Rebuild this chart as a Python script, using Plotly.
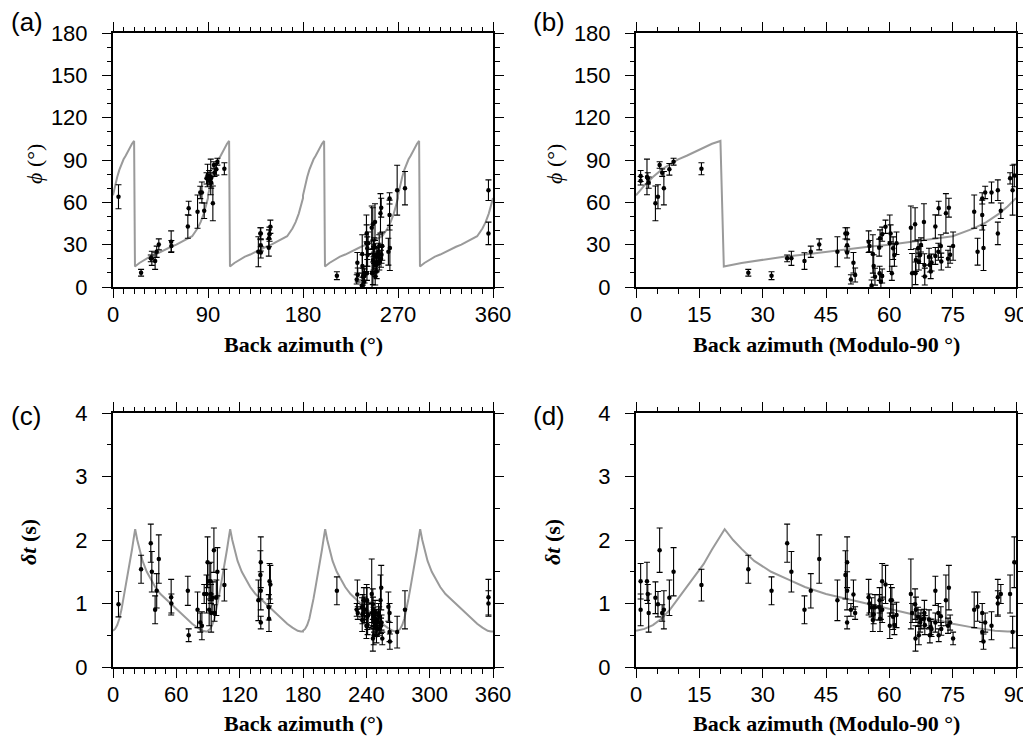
import numpy as np
import plotly.graph_objects as go

# events: back azimuth (deg), fast direction phi (deg) and delay time dt (s), with errors
baz = [91.1, 91.1, 92.6, 92.8, 93.0, 94.6, 5.2, 95.6, 96.2, 276.6,
       97.9, 98.9, 105.5, 26.6, 212.1, 35.8, 36.8, 39.9, 41.4, 43.4,
       137.7, 139.6, 140.0, 140.0, 140.0, 230.9, 231.5, 231.9, 55.1, 55.3,
       235.8, 236.1, 236.3, 236.6, 147.6, 147.8, 148.3, 237.7, 238.0, 238.3,
       149.1, 240.1, 240.3, 240.6, 240.9, 241.2, 241.7, 245.1, 245.4, 246.1,
       246.2, 246.3, 246.8, 247.0, 247.3, 247.5, 248.2, 248.3, 248.4, 249.4,
       249.6, 249.8, 250.0, 70.9, 250.9, 251.6, 71.7, 252.2, 252.3, 253.4,
       254.1, 253.9, 254.4, 255.1, 80.1, 260.9, 262.0, 262.0, 262.3, 82.7,
       84.2, 355.7, 355.7, 86.4, 88.6, 269.2, 89.6]
phi = [78.7, 75.3, 78, 77, 74, 59.3, 64, 86.5, 81, 70,
       83.4, 88.8, 83.8, 10.1, 8, 20.3, 20.3, 18.4, 25, 30.2,
       25, 38, 38, 29.5, 24.5, 5.4, 17.2, 8.5, 32.1, 29,
       1, 23.4, 14.9, 7.3, 27.9, 34.5, 37.4, 9.7, 3.8, 7.8,
       42.7, 31, 38, 9.7, 27.5, 22.7, 31, 42, 9.7, 44.4,
       9.7, 19.1, 27.4, 18, 22.7, 29.8, 46, 15.6, 7.4, 21.5,
       15.6, 10.9, 17.3, 42.8, 22, 25, 55.8, 29, 18, 52.2,
       56.2, 20, 22.8, 29, 53.4, 25, 62.8, 51, 27.7, 67,
       67, 68.6, 38, 54, 77, 68.6, 79]
phi_err = [3.9, 3, 12.6, 4, 4, 12.3, 8.5, 2.3, 2.6, 11.8,
           4.1, 2.4, 4.3, 2.4, 2.8, 2.4, 5, 5.9, 4, 3.9,
           10.6, 4, 4, 4, 4, 3.3, 7.3, 5, 7.7, 4,
           4, 13.6, 8, 6, 6, 6, 5, 5, 5, 5,
           4.7, 20, 6, 5, 8, 8, 8, 15.4, 14, 11.8,
           8, 8, 6, 6, 6, 5, 13, 8, 6, 6,
           5, 5, 6, 8.3, 6, 6, 5, 8, 6, 14,
           6.7, 6, 6, 10, 11.8, 9.5, 4, 10.6, 16, 4.4,
           7.4, 7.3, 8, 5.5, 4, 17.7, 8]
dt = [1.35, 0.9, 1.35, 1.15, 0.85, 1.09, 0.99, 1.84, 0.85, 0.9,
      1.09, 1.5, 1.29, 1.54, 1.2, 1.95, 1.5, 0.9, 1.2, 1.7,
      1.05, 1.45, 1.65, 1.2, 0.7, 0.9, 1.14, 0.85, 1.1, 1.0,
      0.94, 0.74, 0.83, 0.94, 0.94, 0.76, 1.35, 1.05, 0.9, 0.9,
      1.3, 0.65, 1.05, 1.05, 0.79, 0.66, 0.82, 1.15, 0.85, 0.99,
      0.45, 0.9, 0.79, 0.5, 0.7, 0.75, 0.76, 0.85, 0.66, 0.75,
      0.5, 0.63, 0.6, 1.2, 0.7, 0.85, 0.5, 0.8, 0.6, 1.05,
      1.25, 0.65, 0.7, 0.45, 0.9, 0.95, 0.85, 0.55, 0.4, 0.7,
      0.65, 1.1, 1.0, 1.15, 1.15, 0.55, 1.65]
dt_err = [0.28, 0.25, 0.3, 0.15, 0.3, 0.25, 0.2, 0.35, 0.13, 0.3,
          0.28, 0.38, 0.25, 0.22, 0.22, 0.3, 0.32, 0.22, 0.27, 0.38,
          0.32, 0.38, 0.4, 0.3, 0.1, 0.1, 0.23, 0.1, 0.28, 0.15,
          0.15, 0.18, 0.15, 0.2, 0.2, 0.2, 0.28, 0.2, 0.15, 0.2,
          0.3, 0.2, 0.25, 0.2, 0.2, 0.15, 0.2, 0.55, 0.15, 0.24,
          0.2, 0.2, 0.15, 0.15, 0.15, 0.15, 0.15, 0.2, 0.15, 0.15,
          0.12, 0.12, 0.12, 0.23, 0.15, 0.15, 0.1, 0.15, 0.1, 0.4,
          0.35, 0.12, 0.12, 0.1, 0.28, 0.23, 0.15, 0.15, 0.12, 0.15,
          0.22, 0.28, 0.2, 0.15, 0.3, 0.25, 0.4]

# model curves over one 90-deg period
model_x = [0, 2, 4, 6, 8, 10, 12, 14, 16, 18, 20, 20.8, 25, 30, 35, 40, 45, 50,
           55, 60, 65, 70, 75, 80, 83, 86, 88, 90]
model_phi = [65, 72, 78, 83, 87, 90.5, 93, 96, 99, 101.5, 103.5, 14.5, 17, 19.5,
             21.5, 23, 25, 27, 28.5, 30, 32, 33.5, 36, 41.5, 46, 52, 57, 63]
model_dt_x = [0, 2, 4, 6, 8, 10, 12, 14, 16, 18, 20, 21, 23, 25, 28, 32, 36, 40,
              45, 50, 55, 60, 65, 70, 75, 80, 85, 88, 90]
model_dt = [0.57, 0.6, 0.66, 0.76, 0.9, 1.08, 1.27, 1.45, 1.62, 1.85, 2.07, 2.17,
            2.0, 1.86, 1.67, 1.5, 1.38, 1.26, 1.15, 1.07, 1.0, 0.92, 0.84, 0.76,
            0.68, 0.62, 0.57, 0.56, 0.56]

baz = np.array(baz)
baz90 = baz % 90
full_x = np.concatenate([np.array(model_x) + k * 90 for k in range(4)])
full_phi = np.tile(model_phi, 4)
full_dt_x = np.concatenate([np.array(model_dt_x) + k * 90 for k in range(4)])
full_dt = np.tile(model_dt, 4)

# page body adds an 8px margin, so the figure is 8px smaller and offsets are shifted
OFF = 8
W, H = 1031 - OFF, 739 - OFF
fig = go.Figure()

panels = [
    # x, y, err, curve x, curve y, axis suffix
    (baz, phi, phi_err, full_x, full_phi, ''),
    (baz90, phi, phi_err, model_x, model_phi, '2'),
    (baz, dt, dt_err, full_dt_x, full_dt, '3'),
    (baz90, dt, dt_err, model_dt_x, model_dt, '4'),
]
for x, y, err, cx, cy, s in panels:
    fig.add_trace(go.Scatter(x=cx, y=cy, mode='lines', line=dict(color='#9a9a9a', width=2),
                             xaxis='x' + s, yaxis='y' + s, showlegend=False, hoverinfo='skip'))
    fig.add_trace(go.Scatter(x=x, y=y, mode='markers', marker=dict(color='black', size=4.5),
                             error_y=dict(type='data', array=err, color='black', thickness=1.1, width=3),
                             xaxis='x' + s, yaxis='y' + s, showlegend=False))

tickfont = dict(family='Liberation Sans', size=22, color='black')


def ax(dom, rng, dtick, minor, anchor, standoff):
    return dict(domain=dom, range=rng, dtick=dtick, tick0=0, ticks='outside', ticklen=9,
                tickwidth=1.2, tickcolor='black', showline=True, linewidth=2, linecolor='black',
                mirror='ticks', showgrid=False, zeroline=False, tickfont=tickfont,
                anchor=anchor, fixedrange=True, automargin=False, ticklabelstandoff=standoff,
                minor=dict(dtick=minor, tick0=0, ticks='outside', ticklen=4.5, tickwidth=1,
                           tickcolor='black', showgrid=False))


def px_x(a, b):
    return [(a - OFF) / W, (b - OFF) / W]


def px_y(top, bottom):
    return [1 - (bottom - OFF) / H, 1 - (top - OFF) / H]


xl = px_x(113, 493)
xr = px_x(636, 1016)
yt = px_y(33, 287)
yb = px_y(413, 667)

fig.update_layout(
    width=W, height=H, margin=dict(l=0, r=0, t=0, b=0, pad=0, autoexpand=False),
    plot_bgcolor='white', paper_bgcolor='white',
    xaxis=ax(xl, [0, 360], 90, 10, 'y', -2),
    yaxis=ax(yt, [0, 180], 30, 10, 'x', 10),
    xaxis2=ax(xr, [0, 90], 15, 5, 'y2', -2),
    yaxis2=ax(yt, [0, 180], 30, 10, 'x2', 10),
    xaxis3=ax(xl, [0, 360], 60, 10, 'y3', -2),
    yaxis3=ax(yb, [0, 4], 1, 0.5, 'x3', 10),
    xaxis4=ax(xr, [0, 90], 15, 5, 'y4', -2),
    yaxis4=ax(yb, [0, 4], 1, 0.5, 'x4', 10),
)

serif = dict(family='Liberation Serif', size=22, color='black')
labfont = dict(family='Liberation Sans', size=26, color='black')

# panel letters sit against the top edge of the page
for text, px in [('(a)', 27), ('(b)', 549)]:
    fig.add_annotation(text=text, x=(px - OFF) / W, y=1, xref='paper', yref='paper',
                       showarrow=False, font=labfont, xanchor='center', yanchor='top',
                       borderpad=0, yshift=2)

notes = [
    ('(c)', 26, 416, labfont, 0), ('(d)', 549, 416, labfont, 0),
    ('<i>ϕ</i> (°)', 34, 164, serif, -90), ('<i>ϕ</i> (°)', 554, 164, serif, -90),
    ('<b><i>δt</i> (s)</b>', 28, 542, serif, -90), ('<b><i>δt</i> (s)</b>', 552, 542, serif, -90),
    ('<b>Back azimuth (°)</b>', 303, 344, serif, 0),
    ('<b>Back azimuth (Modulo-90 °)</b>', 826, 344, serif, 0),
    ('<b>Back azimuth (°)</b>', 303, 723, serif, 0),
    ('<b>Back azimuth (Modulo-90 °)</b>', 826, 723, serif, 0),
]
for text, px, py, font, ang in notes:
    fig.add_annotation(text=text, x=(px - OFF) / W, y=1 - (py - OFF) / H,
                       xref='paper', yref='paper', showarrow=False, font=font,
                       textangle=ang, xanchor='center', yanchor='middle')

fig.write_html("out.html")
